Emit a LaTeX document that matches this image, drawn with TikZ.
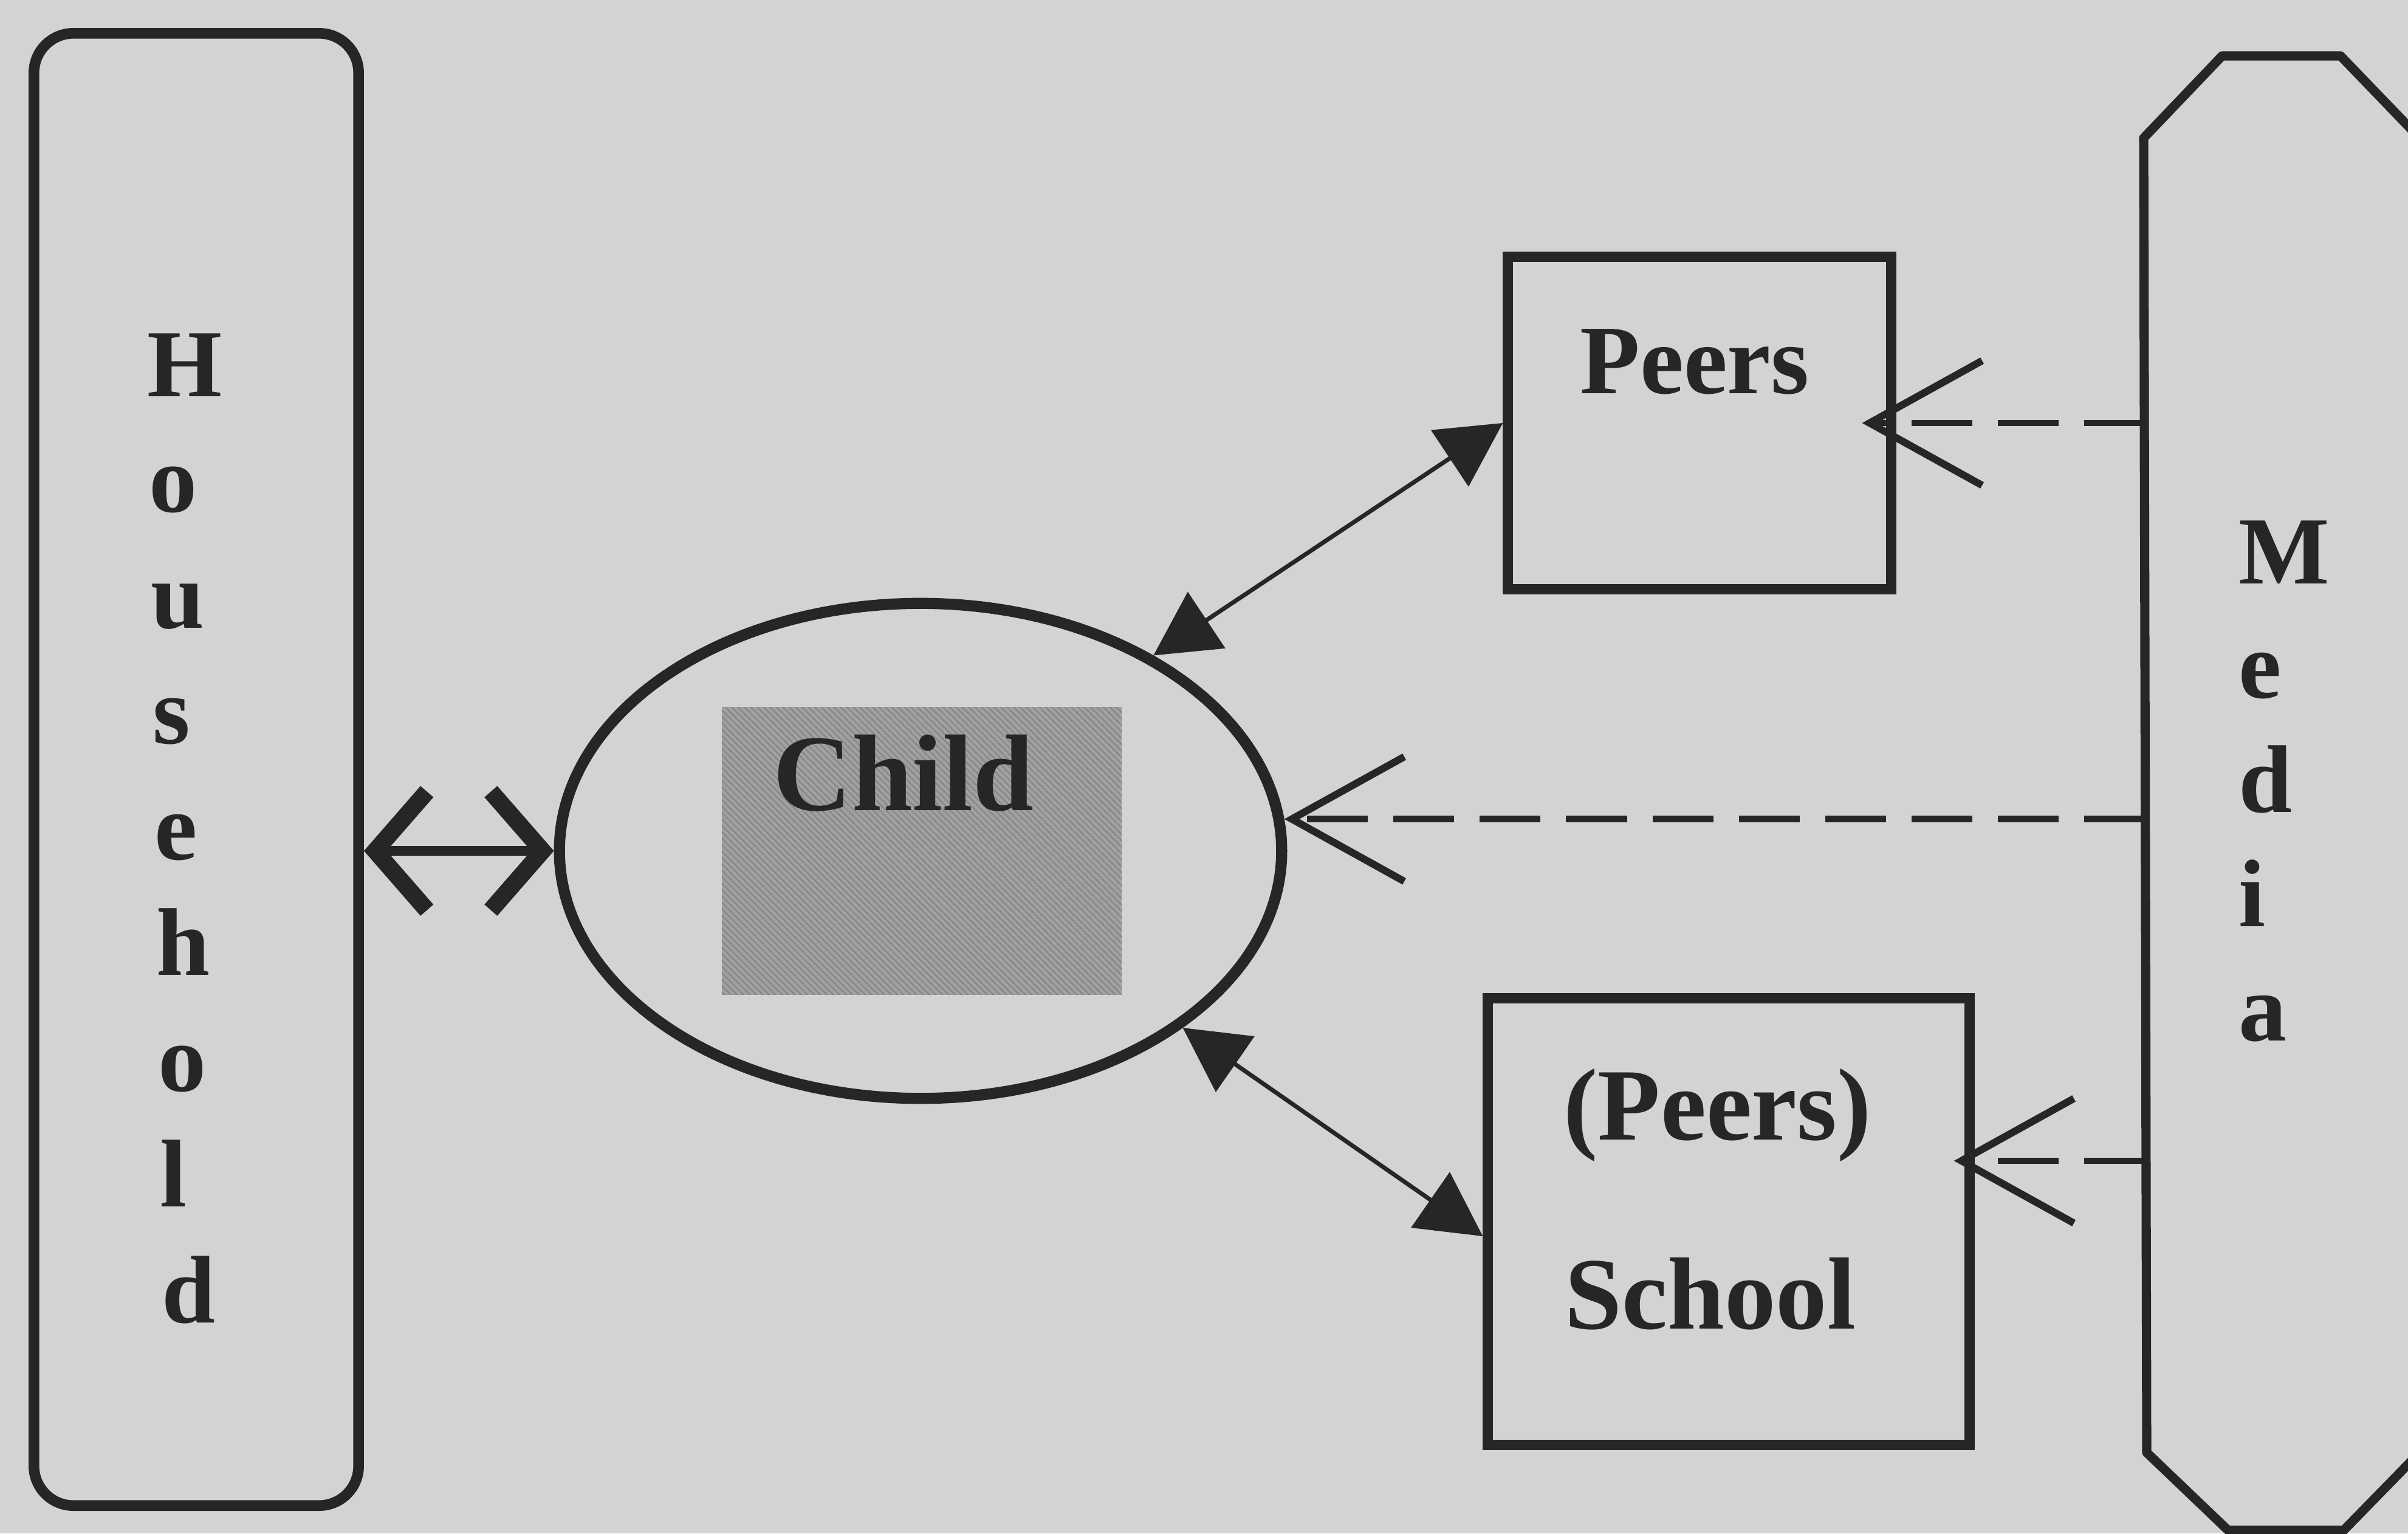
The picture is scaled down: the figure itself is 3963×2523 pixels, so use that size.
\documentclass[tikz,border=0pt]{standalone}
\usepackage{fontspec}
\setmainfont{Liberation Serif}[BoldFont={Liberation Serif Bold}]
\usetikzlibrary{arrows.meta,shapes.geometric,patterns}
\definecolor{bg}{HTML}{D3D3D3}
\definecolor{ink}{HTML}{262626}
\definecolor{childfill}{HTML}{A0A0A0}
\definecolor{hatch}{HTML}{7C7C7C}
\begin{document}
\begin{tikzpicture}[x=0.01cm,y=-0.01cm,
  box/.style={draw=ink, line width=4.8pt, inner sep=0},
  letter/.style={inner sep=0, anchor=base west, text=ink, font=\fontsize{45pt}{45pt}\selectfont\bfseries},
  lbl/.style={inner sep=0, text=ink, font=\fontsize{46pt}{46pt}\selectfont\bfseries},
  thickarrow/.style={draw=ink, line width=4.3pt,
    arrows={Straight Barb[length=0.85cm,width=1.95cm,line width=8pt]-Straight Barb[length=0.85cm,width=1.95cm,line width=8pt]}},
  thinarrow/.style={draw=ink, line width=2pt,
    arrows={Triangle[length=1.05cm,width=1.1cm]-Triangle[length=1.05cm,width=1.1cm]}},
  dasharrow/.style={draw=ink, line width=3.1pt, dash pattern=on 1cm off 0.42cm,
    arrows={-Straight Barb[length=1.85cm,width=2.05cm,line width=3.4pt]}}
]
\fill[bg] (0,0) rectangle (3963,2523);
\useasboundingbox (0,0) rectangle (3963,2523);

% Household
\node[box, line width=5pt, rounded corners=0.65cm, minimum width=5.34cm, minimum height=24.21cm] (household) at (323,1266) {};
\foreach \l [count=\i from 0] in {H,o,u,s,e,h,o,l,d}
  \node[letter] (hh\i) at (242+3*\i, 652+190.5*\i) {\l};

% Child
\node[ellipse, draw=ink, line width=5.2pt, minimum width=11.88cm, minimum height=8.14cm, inner sep=0] (child) at (1515,1400) {};
\node[fill=childfill, postaction={pattern=north west lines, pattern color=hatch}, minimum width=6.58cm, minimum height=4.73cm, inner sep=0] (childbox) at (1517,1400) {};
\node[lbl, anchor=base, font=\fontsize{51pt}{51pt}\selectfont\bfseries] (childlabel) at (1487,1333) {Child};

% Peers
\node[box, minimum width=6.30cm, minimum height=5.47cm] (peers) at (2797,696) {};
\node[lbl, anchor=base] (peerslabel) at (2789,647) {Peers};

% School
\node[box, minimum width=7.92cm, minimum height=7.35cm] (school) at (2845,2010) {};
\node[lbl, anchor=base west, font=\fontsize{48pt}{48pt}\selectfont\bfseries] (schpeers) at (2573,1875) {(Peers)};
\node[lbl, anchor=base west, font=\fontsize{48pt}{48pt}\selectfont\bfseries] (schlabel) at (2575,2186) {School};

% Media
\draw[ink, line width=4.3pt, line join=round] (3657,92) -- (3852,92) -- (3982,227) -- (3982,2390) -- (3857,2518) -- (3667,2518) -- (3533,2390) -- (3528,227) -- cycle;
\coordinate (medL) at (3530,1300);
\foreach \l [count=\i from 0] in {M,e,d,i,a}
  \node[letter] (md\i) at (3684, 960+188*\i) {\l};

% Connectors
\draw[thickarrow] (household.east |- child.west) -- (child.west);
\draw[thinarrow] (child.40) -- (peers.west);
\coordinate (schw) at ([yshift=-0.24cm]school.west);
\draw[thinarrow] (child.-34) -- (schw);

\draw[dasharrow, shorten >=-0.56cm] (peers.east -| medL) -- (peers.east);
\draw[dasharrow] (child.5 -| medL) -- (child.5);
\coordinate (sche) at ([yshift=1cm]school.east);
\draw[dasharrow, shorten >=-0.34cm] (sche -| medL) -- (sche);
\end{tikzpicture}
\end{document}
